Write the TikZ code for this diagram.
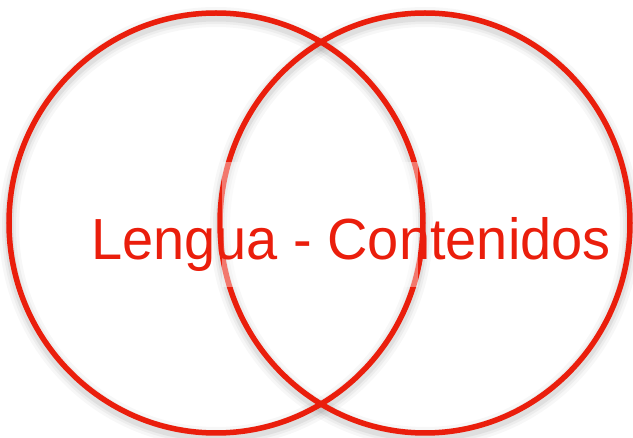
\documentclass[tikz,border=0pt]{standalone}
\usepackage{fontspec}
\setmainfont{Liberation Sans}
\usetikzlibrary{shapes.geometric}
\definecolor{vennred}{RGB}{234,30,12}

\begin{document}
\begin{tikzpicture}[
  x=1pt, y=-1pt,
  venn/.style={ellipse, draw=vennred, line width=5.5pt, inner sep=0pt},
  shade ring/.style={draw=black, opacity=#1},
  tag/.style={font=\fontsize{58}{58}\selectfont, text=vennred,
              anchor=base, inner sep=0pt, xscale=0.965},
]
\useasboundingbox (0,0) rectangle (633,438);

%% Centres
\coordinate (cL) at (216,223);
\coordinate (cR) at (425,223);

%% Soft shadows under the rings
\foreach \c/\rx in {cL/207, cR/205}
  \foreach \w/\o in {20/0.03, 14/0.04, 9/0.06}
    \draw[shade ring=\o, line width=\w pt]
      ([yshift=-4pt]\c) ellipse [x radius=\rx pt, y radius=210pt];

%% Rings
\node[venn, minimum width=414pt, minimum height=420pt] (lengua) at (cL) {};
\node[venn, minimum width=410pt, minimum height=420pt] (contenidos) at (cR) {};

%% Band behind the label
\fill[white, opacity=0.4] (222,162) rectangle (418,287);

%% Label
\node[tag] (tema) at (351,260) {Lengua - Contenidos};

\end{tikzpicture}
\end{document}
